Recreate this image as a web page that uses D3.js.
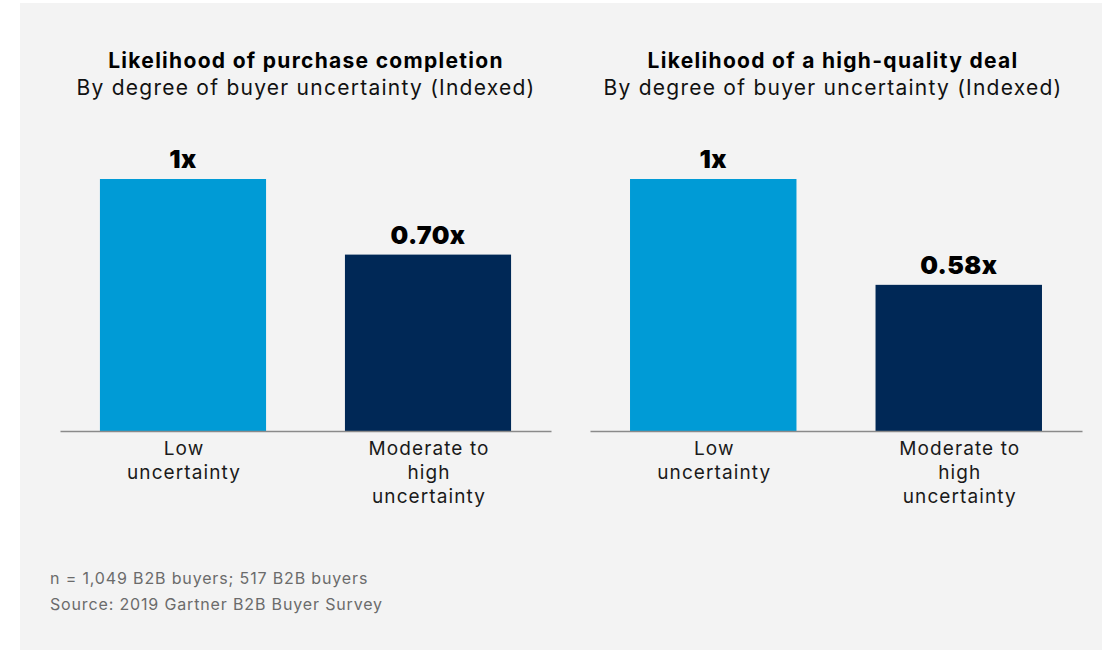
<!DOCTYPE html>
<html><head><meta charset="utf-8">
<script src="https://cdn.jsdelivr.net/npm/d3@7"></script>
<style>
html,body{margin:0;padding:0;background:#fff;}
svg{display:block;font-family:Inter,"Noto Sans",sans-serif;}
</style></head>
<body>
<svg id="chart" width="1102" height="653"></svg>
<script>
const categories = [["Low","uncertainty"],["Moderate to","high","uncertainty"]];
const categoryKeys = ["low","moderate"];
const purchaseValues = [1, 0.70];
const dealValues = [1, 0.58];
const valueLabels1 = ["1x","0.70x"];
const valueLabels2 = ["1x","0.58x"];
const titles = ["Likelihood of purchase completion","Likelihood of a high-quality deal"];
const subtitle = "By degree of buyer uncertainty (Indexed)";
const footnotes = ["n = 1,049 B2B buyers; 517 B2B buyers","Source: 2019 Gartner B2B Buyer Survey"];
const colors = ["#009bd6","#002856"];

const svg = d3.select("#chart");
svg.append("rect").attr("x",20).attr("y",3).attr("width",1082).attr("height",647).attr("fill","#f3f3f3");

const y = d3.scaleLinear().domain([0,1]).range([431,179]);

const panels = [
  {x0:60, x1:551, tx:306, values:purchaseValues, labels:valueLabels1, title:titles[0]},
  {x0:590, x1:1082, tx:833, values:dealValues, labels:valueLabels2, title:titles[1]}
];

panels.forEach(p=>{
  const x = d3.scaleBand().domain(categoryKeys).range([p.x0,p.x1]).paddingInner(0.322).paddingOuter(0.163);
  const g = svg.append("g");
  g.append("text").attr("x",p.tx).attr("y",68).attr("text-anchor","middle")
    .attr("font-size",21).attr("letter-spacing",1.3).attr("font-weight",700).attr("fill","#000").text(p.title);
  g.append("text").attr("x",p.tx).attr("y",95).attr("text-anchor","middle")
    .attr("font-size",21).attr("letter-spacing",1.25).attr("font-weight",400).attr("fill","#111").text(subtitle);

  g.selectAll("rect.bar").data(p.values).join("rect").attr("class","bar")
    .attr("x",(d,i)=>x(categoryKeys[i])).attr("width",x.bandwidth())
    .attr("y",d=>y(d)).attr("height",d=>y(0)-y(d)).attr("fill",(d,i)=>colors[i]);

  g.selectAll("text.val").data(p.values).join("text").attr("class","val")
    .attr("x",(d,i)=>x(categoryKeys[i])+x.bandwidth()/2).attr("y",d=>y(d)-11)
    .attr("text-anchor","middle").attr("font-size",25).attr("letter-spacing",0.4).attr("font-weight",900).attr("fill","#000")
    .text((d,i)=>p.labels[i]);

  const axis = d3.axisBottom(x).tickSize(0).tickFormat("");
  const ag = g.append("g").attr("transform",`translate(0,${y(0)})`).call(axis);
  ag.select(".domain").attr("stroke","#8a8a8a").attr("stroke-width",1.5);

  categoryKeys.forEach((k,i)=>{
    const t = g.append("text").attr("x",x(k)+x.bandwidth()/2+1).attr("y",455)
      .attr("text-anchor","middle").attr("font-size",19).attr("letter-spacing",1.1).attr("fill","#1a1a1a");
    categories[i].forEach((line,j)=>{
      t.append("tspan").attr("x",x(k)+x.bandwidth()/2+1).attr("dy",j===0?0:24).text(line);
    });
  });
});

svg.selectAll("text.foot").data(footnotes).join("text").attr("class","foot")
  .attr("x",50).attr("y",(d,i)=>584+i*26).attr("font-size",16).attr("letter-spacing",0.85).attr("fill","#6b6b6b").text(d=>d);
</script>
</body></html>
